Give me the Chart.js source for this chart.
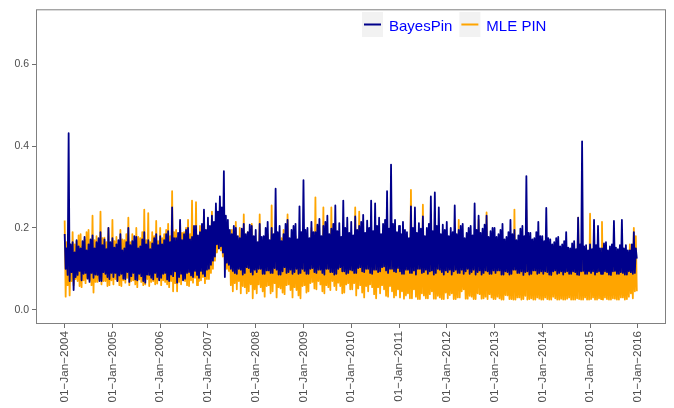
<!DOCTYPE html>
<html>
<head>
<meta charset="utf-8">
<script src="https://cdn.jsdelivr.net/npm/chart.js@4"></script>
<style>
  html, body { margin: 0; padding: 0; background: #fff; overflow: hidden; }
  canvas { display: block; }
</style>
</head>
<body>
<canvas id="chartPin" width="674" height="408"></canvas>
<script>
//* DATOS - readings every ~week (48 per year), alternating local highs and lows, from Jan 2004
const startYear = 2004;
const perYear = 48;
const yearTicks = [2004, 2005, 2006, 2007, 2008, 2009, 2010, 2011, 2012, 2013, 2014, 2015, 2016];
const yTicks = [0.0, 0.2, 0.4, 0.6];

const bayesPin = [
  // 2004
  0.185,0.100,0.150,0.085, 0.432,0.070,0.160,0.092, 0.165,0.048,0.140,0.080, 0.170,0.085,0.155,0.095, 0.150,0.072,0.168,0.088, 0.178,0.090,0.145,0.076,
  0.160,0.068,0.172,0.090, 0.182,0.078,0.150,0.086, 0.165,0.085,0.175,0.070, 0.190,0.070,0.158,0.092, 0.172,0.088,0.148,0.080, 0.200,0.075,0.165,0.090,
  // 2005
  0.175,0.080,0.152,0.090, 0.160,0.070,0.170,0.084, 0.185,0.088,0.145,0.076, 0.150,0.075,0.165,0.092, 0.200,0.068,0.158,0.082, 0.168,0.090,0.180,0.074,
  0.178,0.072,0.150,0.088, 0.155,0.082,0.172,0.070, 0.190,0.066,0.160,0.086, 0.170,0.085,0.148,0.078, 0.162,0.074,0.175,0.090, 0.185,0.080,0.158,0.072,
  // 2006
  0.180,0.078,0.160,0.088, 0.170,0.090,0.185,0.074, 0.192,0.070,0.165,0.086, 0.250,0.082,0.175,0.094, 0.175,0.066,0.188,0.080, 0.220,0.088,0.170,0.072,
  0.185,0.076,0.195,0.090, 0.200,0.092,0.172,0.084, 0.178,0.080,0.205,0.095, 0.205,0.085,0.182,0.078, 0.190,0.095,0.210,0.088, 0.245,0.082,0.195,0.098,
  // 2007
  0.225,0.100,0.205,0.110, 0.230,0.120,0.215,0.130, 0.260,0.160,0.240,0.150, 0.277,0.155,0.250,0.140, 0.339,0.080,0.230,0.115, 0.220,0.110,0.195,0.100,
  0.185,0.095,0.205,0.090, 0.200,0.088,0.180,0.100, 0.175,0.098,0.198,0.086, 0.210,0.090,0.185,0.104, 0.190,0.102,0.208,0.092, 0.205,0.086,0.180,0.098,
  // 2008
  0.195,0.092,0.165,0.100, 0.210,0.100,0.178,0.088, 0.180,0.088,0.200,0.096, 0.215,0.096,0.170,0.090, 0.200,0.090,0.185,0.102, 0.296,0.098,0.190,0.086,
  0.205,0.086,0.168,0.094, 0.185,0.104,0.210,0.090, 0.220,0.092,0.175,0.098, 0.195,0.088,0.205,0.092, 0.210,0.100,0.172,0.088, 0.253,0.090,0.190,0.100,
  // 2009
  0.317,0.095,0.195,0.088, 0.200,0.088,0.175,0.100, 0.215,0.102,0.190,0.092, 0.190,0.090,0.208,0.098, 0.222,0.098,0.180,0.090, 0.205,0.086,0.215,0.100,
  0.230,0.100,0.185,0.092, 0.198,0.092,0.210,0.086, 0.255,0.088,0.192,0.100, 0.212,0.104,0.178,0.094, 0.267,0.094,0.200,0.088, 0.225,0.090,0.188,0.098,
  // 2010
  0.215,0.096,0.182,0.090, 0.228,0.090,0.195,0.102, 0.205,0.104,0.215,0.094, 0.232,0.092,0.188,0.100, 0.218,0.100,0.200,0.090, 0.267,0.088,0.192,0.098,
  0.260,0.098,0.205,0.092, 0.225,0.094,0.185,0.104, 0.210,0.106,0.220,0.096, 0.290,0.090,0.198,0.100, 0.355,0.100,0.210,0.094, 0.220,0.092,0.190,0.102,
  // 2011
  0.205,0.094,0.185,0.088, 0.215,0.088,0.195,0.098, 0.190,0.098,0.175,0.090, 0.253,0.090,0.200,0.096, 0.250,0.086,0.188,0.100, 0.212,0.100,0.198,0.090,
  0.228,0.092,0.180,0.098, 0.200,0.088,0.210,0.094, 0.277,0.096,0.192,0.086, 0.287,0.090,0.205,0.100, 0.250,0.098,0.185,0.092, 0.208,0.086,0.195,0.096,
  // 2012
  0.215,0.092,0.180,0.098, 0.200,0.086,0.190,0.094, 0.255,0.098,0.185,0.090, 0.195,0.090,0.205,0.098, 0.210,0.088,0.175,0.094, 0.188,0.100,0.200,0.088,
  0.205,0.092,0.182,0.098, 0.260,0.086,0.195,0.092, 0.230,0.096,0.188,0.086, 0.198,0.090,0.208,0.096, 0.230,0.094,0.178,0.088, 0.192,0.088,0.200,0.096,
  // 2013
  0.200,0.090,0.178,0.096, 0.185,0.096,0.195,0.086, 0.210,0.086,0.172,0.094, 0.178,0.092,0.190,0.086, 0.220,0.088,0.185,0.098, 0.195,0.098,0.170,0.090,
  0.182,0.090,0.198,0.094, 0.205,0.085,0.180,0.092, 0.327,0.094,0.188,0.086, 0.188,0.088,0.172,0.096, 0.175,0.096,0.190,0.088, 0.215,0.090,0.180,0.094,
  // 2014
  0.180,0.088,0.168,0.094, 0.249,0.092,0.175,0.086, 0.172,0.085,0.160,0.094, 0.165,0.096,0.175,0.088, 0.178,0.090,0.155,0.094, 0.160,0.086,0.168,0.092,
  0.190,0.094,0.152,0.088, 0.150,0.088,0.162,0.094, 0.168,0.092,0.148,0.086, 0.225,0.085,0.160,0.094, 0.412,0.095,0.155,0.088, 0.158,0.088,0.145,0.094,
  // 2015
  0.160,0.090,0.148,0.094, 0.220,0.086,0.158,0.092, 0.205,0.094,0.150,0.088, 0.150,0.088,0.162,0.094, 0.165,0.092,0.145,0.086, 0.155,0.085,0.160,0.094,
  0.217,0.095,0.152,0.088, 0.148,0.088,0.158,0.092, 0.220,0.090,0.150,0.086, 0.158,0.086,0.145,0.094, 0.145,0.092,0.160,0.088, 0.190,0.090,0.150,0.125
];

const mlePin = [
  // 2004
  0.218,0.032,0.165,0.060, 0.175,0.035,0.150,0.070, 0.190,0.060,0.160,0.075, 0.168,0.070,0.182,0.058, 0.185,0.055,0.155,0.072, 0.172,0.065,0.190,0.078,
  0.195,0.072,0.162,0.060, 0.230,0.042,0.170,0.068, 0.180,0.068,0.158,0.075, 0.240,0.062,0.175,0.070, 0.176,0.070,0.165,0.058, 0.200,0.060,0.160,0.072,
  // 2005
  0.220,0.062,0.168,0.075, 0.178,0.070,0.160,0.060, 0.195,0.058,0.172,0.072, 0.170,0.066,0.185,0.078, 0.225,0.060,0.165,0.070, 0.185,0.072,0.158,0.062,
  0.200,0.055,0.178,0.074, 0.175,0.068,0.190,0.060, 0.245,0.062,0.170,0.075, 0.236,0.058,0.165,0.068, 0.190,0.070,0.180,0.062, 0.217,0.064,0.168,0.074,
  // 2006
  0.200,0.060,0.175,0.072, 0.185,0.068,0.195,0.062, 0.210,0.055,0.180,0.070, 0.290,0.045,0.190,0.065, 0.195,0.045,0.178,0.068, 0.215,0.062,0.188,0.074,
  0.190,0.070,0.200,0.060, 0.220,0.058,0.185,0.072, 0.267,0.066,0.195,0.078, 0.263,0.060,0.180,0.070, 0.205,0.072,0.198,0.080, 0.240,0.065,0.190,0.075,
  // 2007
  0.210,0.075,0.195,0.090, 0.240,0.100,0.200,0.120, 0.200,0.140,0.185,0.150, 0.190,0.145,0.175,0.130, 0.170,0.120,0.180,0.100, 0.200,0.095,0.185,0.060,
  0.195,0.045,0.170,0.065, 0.215,0.050,0.160,0.070, 0.200,0.040,0.175,0.058, 0.233,0.055,0.165,0.040, 0.190,0.045,0.180,0.062, 0.210,0.028,0.170,0.050,
  // 2008
  0.165,0.040,0.150,0.062, 0.233,0.055,0.140,0.045, 0.150,0.032,0.170,0.058, 0.185,0.060,0.145,0.040, 0.255,0.045,0.160,0.065, 0.170,0.030,0.135,0.055,
  0.140,0.052,0.175,0.042, 0.195,0.038,0.150,0.060, 0.233,0.062,0.145,0.048, 0.160,0.030,0.172,0.055, 0.180,0.048,0.138,0.035, 0.145,0.028,0.165,0.058,
  // 2009
  0.180,0.060,0.150,0.042, 0.160,0.045,0.172,0.065, 0.200,0.068,0.145,0.052, 0.275,0.050,0.160,0.070, 0.170,0.062,0.140,0.045, 0.250,0.040,0.165,0.060,
  0.150,0.055,0.178,0.048, 0.250,0.070,0.155,0.058, 0.185,0.048,0.148,0.066, 0.165,0.058,0.175,0.040, 0.195,0.042,0.152,0.062, 0.175,0.065,0.160,0.050,
  // 2010
  0.165,0.050,0.145,0.065, 0.250,0.035,0.155,0.052, 0.240,0.060,0.140,0.042, 0.175,0.030,0.160,0.058, 0.150,0.045,0.135,0.062, 0.190,0.055,0.150,0.038,
  0.160,0.028,0.145,0.055, 0.200,0.040,0.138,0.060, 0.145,0.050,0.158,0.034, 0.180,0.032,0.142,0.058, 0.170,0.045,0.150,0.030, 0.155,0.035,0.140,0.050,
  // 2011
  0.140,0.030,0.125,0.045, 0.150,0.027,0.118,0.035, 0.125,0.040,0.138,0.028, 0.293,0.028,0.130,0.050, 0.135,0.032,0.120,0.026, 0.160,0.026,0.128,0.040,
  0.257,0.035,0.122,0.028, 0.130,0.028,0.140,0.038, 0.145,0.045,0.118,0.027, 0.240,0.027,0.132,0.034, 0.120,0.030,0.125,0.026, 0.150,0.026,0.118,0.042,
  // 2012
  0.130,0.028,0.118,0.036, 0.145,0.040,0.125,0.026, 0.120,0.026,0.132,0.030, 0.220,0.030,0.115,0.045, 0.135,0.050,0.122,0.027, 0.125,0.027,0.138,0.034,
  0.150,0.032,0.120,0.026, 0.118,0.026,0.128,0.040, 0.220,0.038,0.115,0.027, 0.140,0.028,0.125,0.032, 0.238,0.026,0.120,0.038, 0.128,0.030,0.115,0.026,
  // 2013
  0.125,0.026,0.115,0.032, 0.140,0.028,0.120,0.025, 0.118,0.025,0.130,0.036, 0.150,0.035,0.112,0.026, 0.130,0.026,0.122,0.025, 0.245,0.025,0.118,0.030,
  0.120,0.030,0.132,0.025, 0.135,0.026,0.115,0.034, 0.243,0.025,0.120,0.026, 0.128,0.028,0.112,0.025, 0.145,0.025,0.125,0.030, 0.122,0.027,0.115,0.025,
  // 2014
  0.120,0.025,0.110,0.030, 0.130,0.026,0.115,0.025, 0.115,0.025,0.125,0.032, 0.138,0.028,0.108,0.025, 0.122,0.025,0.118,0.027, 0.110,0.025,0.126,0.025,
  0.128,0.027,0.112,0.030, 0.118,0.025,0.120,0.025, 0.132,0.025,0.108,0.028, 0.225,0.026,0.115,0.025, 0.125,0.025,0.110,0.030, 0.112,0.025,0.120,0.025,
  // 2015
  0.235,0.026,0.112,0.030, 0.120,0.025,0.125,0.025, 0.130,0.028,0.110,0.026, 0.215,0.025,0.118,0.030, 0.115,0.026,0.122,0.025, 0.125,0.025,0.110,0.028,
  0.135,0.027,0.118,0.025, 0.118,0.025,0.125,0.030, 0.128,0.030,0.112,0.025, 0.112,0.026,0.120,0.032, 0.160,0.040,0.115,0.028, 0.200,0.045,0.180,0.045
];

const toPoints = arr => arr.map((v, i) => ({ x: startYear + i / perYear, y: v }));

const axisGrey = '#4d4d4d';
const tickGrey = '#6e6e6e';

// panel border drawn over the lines, like ggplot
const panelBorder = {
    id: 'panelBorder',
    afterDatasetsDraw(chart) {
        const { ctx, chartArea: a } = chart;
        ctx.save();
        ctx.strokeStyle = '#808080';
        ctx.lineWidth = 1;
        ctx.strokeRect(a.left + 0.5, a.top + 0.5, a.right - a.left - 1, a.bottom - a.top - 1);
        ctx.restore();
    }
};

// legend inside the panel, keys with grey background
const pinLegend = {
    id: 'pinLegend',
    afterDraw(chart) {
        const { ctx } = chart;
        let x = 362;
        const top = 12, keyW = 21, keyH = 25;
        ctx.save();
        ctx.font = '15px "Liberation Sans", Arial, sans-serif';
        ctx.textBaseline = 'alphabetic';
        chart.data.datasets.forEach(ds => {
            ctx.fillStyle = '#f2f2f2';
            ctx.fillRect(x, top, keyW, keyH);
            ctx.strokeStyle = ds.borderColor;
            ctx.lineWidth = 2;
            ctx.beginPath();
            ctx.moveTo(x + 2, top + 12.5);
            ctx.lineTo(x + keyW - 2, top + 12.5);
            ctx.stroke();
            ctx.fillStyle = '#0000ff';
            ctx.fillText(ds.label, x + keyW + 6, top + 19);
            x += keyW + 6 + ctx.measureText(ds.label).width + 7;
        });
        ctx.restore();
    }
};

new Chart(document.getElementById('chartPin'), {
    type: 'line',
    data: {
        datasets: [{
            label: 'BayesPin',
            data: toPoints(bayesPin),
            borderColor: '#00008b',
            borderWidth: 1.8,
            borderJoinStyle: 'round',
            pointRadius: 0,
            tension: 0
        }, {
            label: 'MLE PIN',
            data: toPoints(mlePin),
            borderColor: '#ffa500',
            borderWidth: 1.8,
            borderJoinStyle: 'round',
            pointRadius: 0,
            tension: 0
        }]
    },
    options: {
        responsive: false,
        animation: false,
        layout: { padding: { top: 5, right: 8, left: 0, bottom: 0 } },
        plugins: {
            legend: { display: false },
            tooltip: { enabled: false }
        },
        scales: {
            x: {
                type: 'linear',
                min: 2003.4,
                max: 2016.59,
                afterBuildTicks: s => { s.ticks = yearTicks.map(v => ({ value: v })); },
                afterFit: s => { s.height = 84; },
                ticks: {
                    autoSkip: false,
                    minRotation: 90,
                    maxRotation: 90,
                    padding: 3,
                    color: axisGrey,
                    font: { family: 'Liberation Sans', size: 11.7 },
                    callback: v => '01\u2212Jan\u2212' + v
                },
                grid: { drawOnChartArea: false, drawTicks: true, tickLength: 4, color: tickGrey },
                border: { display: false }
            },
            y: {
                min: -0.035,
                max: 0.735,
                afterBuildTicks: s => { s.ticks = yTicks.map(v => ({ value: v })); },
                afterFit: s => { s.width = 36; },
                ticks: {
                    padding: 3,
                    color: axisGrey,
                    font: { family: 'Liberation Sans', size: 10.5 },
                    callback: v => v.toFixed(1)
                },
                grid: { drawOnChartArea: false, drawTicks: true, tickLength: 4, color: tickGrey },
                border: { display: false }
            }
        }
    },
    plugins: [panelBorder, pinLegend]
});
</script>
</body>
</html>
